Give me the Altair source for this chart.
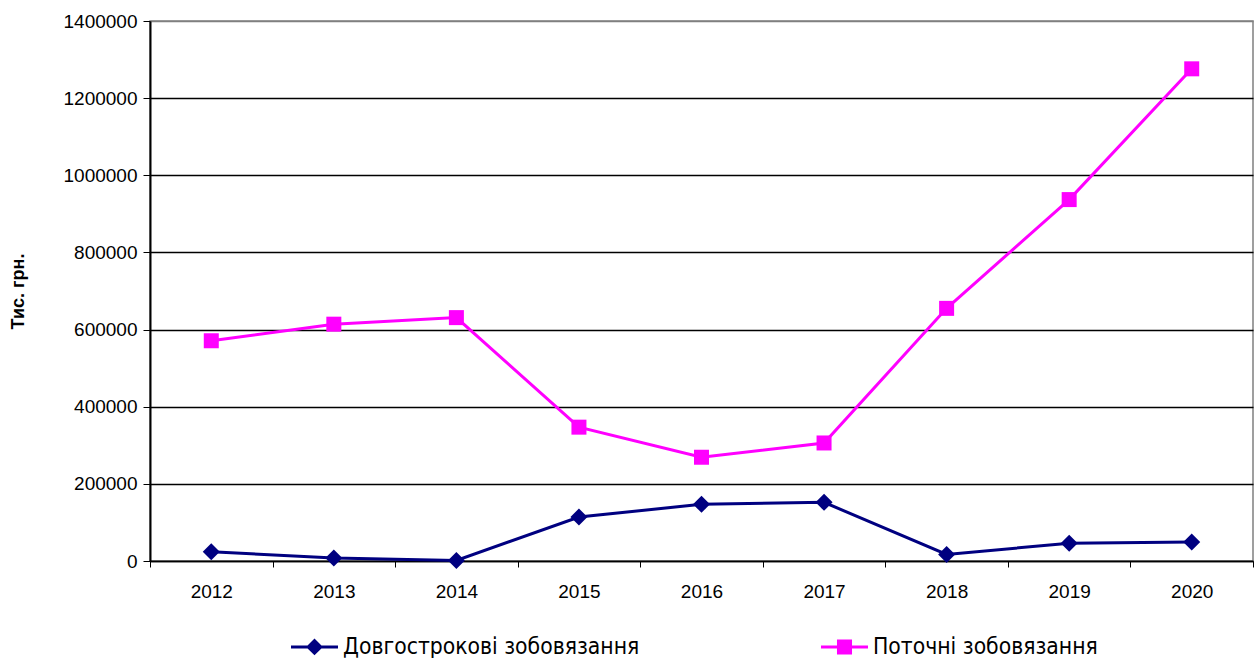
import altair as alt
import pandas as pd

# Liabilities by year, thousand UAH
years = ["2012", "2013", "2014", "2015", "2016", "2017", "2018", "2019", "2020"]
long_term = [24000, 8000, 1500, 114000, 147000, 152000, 17000, 46000, 49000]
current = [571000, 614000, 631000, 347000, 269000, 306000, 655000, 937000, 1276000]

series_names = ["Довгострокові зобовязання", "Поточні зобовязання"]
series_colors = ["#000080", "#FF00FF"]
marker_shapes = ["diamond", "square"]
marker_sizes = [289, 225]
# legend keys: a short line segment with the series marker in its middle
legend_keys = [
    "M-1,-0.064H1V0.064H-1Z M0,-0.36L0.36,0L0,0.36L-0.36,0Z",
    "M-1,-0.064H1V0.064H-1Z M-0.32,-0.32H0.32V0.32H-0.32Z",
]

rows = []
for name, vals in zip(series_names, [long_term, current]):
    for yr, v in zip(years, vals):
        rows.append({"year": yr, "series": name, "value": v})
df = pd.DataFrame(rows)

FONT = "Liberation Sans"
LEGEND_FONT = "Liberation Sans Narrow, DejaVu Sans Condensed, Liberation Sans"

x_enc = alt.X(
    "year:O",
    title=None,
    bandPosition=0.5,
    scale=alt.Scale(type="band", paddingInner=0, paddingOuter=0),
    axis=alt.Axis(
        labelAngle=0,
        tickBand="extent",
        tickSize=6,
        tickColor="black",
        domainColor="black",
        domainWidth=1.5,
        labelFont=FONT,
        labelFontSize=19,
        labelColor="black",
        labelPadding=15,
        grid=False,
    ),
)

y_enc = alt.Y(
    "value:Q",
    title="Тис. грн.",
    scale=alt.Scale(domain=[0, 1400000], nice=False, zero=True),
    axis=alt.Axis(
        values=list(range(0, 1400001, 200000)),
        format="d",
        grid=True,
        gridColor=alt.condition("datum.value == 1400000", alt.value("#808080"), alt.value("black")),
        gridWidth=1.3,
        domainColor="black",
        domainWidth=2,
        tickColor="black",
        tickSize=7,
        labelFont=FONT,
        labelFontSize=19,
        labelColor="black",
        labelPadding=6,
        titleFont=FONT,
        titleFontSize=18,
        titleFontWeight="bold",
        titleColor="black",
        titleX=-132,
        titleY=270,
        titleAngle=-90,
        titleAlign="center",
        titleBaseline="middle",
    ),
)

color_scale = alt.Scale(domain=series_names, range=series_colors)

lines = alt.Chart(df).mark_line(strokeWidth=3).encode(
    x=x_enc,
    y=y_enc,
    color=alt.Color("series:N", scale=color_scale, legend=None),
)

points = alt.Chart(df).mark_point(filled=True, opacity=1, strokeWidth=0).encode(
    x=x_enc,
    y=y_enc,
    color=alt.Color("series:N", scale=color_scale, legend=None),
    shape=alt.Shape("series:N", scale=alt.Scale(domain=series_names, range=marker_shapes), legend=None),
    size=alt.Size("series:N", scale=alt.Scale(domain=series_names, range=marker_sizes), legend=None),
)

# legend only: entries come from the fixed scale domains, no marks are drawn
key_legend = alt.Legend(
    title=None,
    orient="none",
    legendX=141,
    legendY=602,
    direction="horizontal",
    symbolSize=2209,
    symbolStrokeWidth=0,
    symbolOpacity=1,
    labelFont=LEGEND_FONT,
    labelFontSize=22.7,
    labelColor="black",
    labelOffset=5,
    labelLimit=1000,
    columnPadding=181,
)
legend_layer = (
    alt.Chart(df)
    .transform_filter("datum.value < 0")
    .mark_point(filled=True, strokeWidth=0)
    .encode(
        x=x_enc,
        y=y_enc,
        color=alt.Color("series:N", scale=color_scale, legend=key_legend),
        shape=alt.Shape(
            "series:N",
            scale=alt.Scale(domain=series_names, range=legend_keys),
            legend=key_legend,
        ),
    )
)

chart = (
    alt.layer(lines, points, legend_layer)
    .resolve_scale(shape="independent")
    .resolve_legend(color="independent", shape="independent")
    .properties(
        width=1103,
        height=540,
        padding={"left": 150, "top": 21, "right": 5, "bottom": 97},
        autosize=alt.AutoSizeParams(type="none"),
        background="white",
    )
    .configure_view(stroke="#808080", strokeWidth=1.5)
)

chart.save("out.html", embed_options={"renderer": "svg", "actions": False})
